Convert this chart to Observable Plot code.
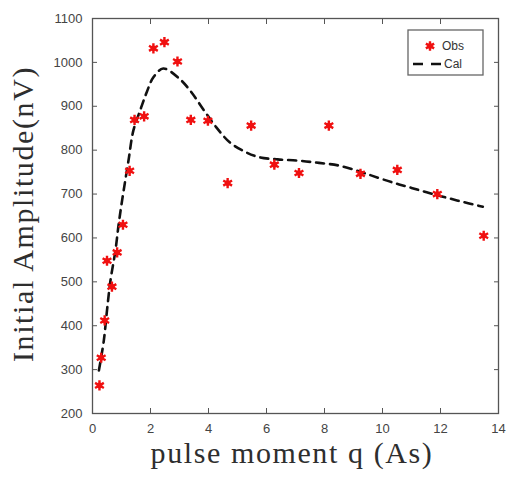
<!DOCTYPE html>
<html>
<head>
<meta charset="utf-8">
<script src="https://cdn.jsdelivr.net/npm/d3@7"></script>
<script src="https://cdn.jsdelivr.net/npm/@observablehq/plot@0.6"></script>
<style>
  html, body { margin: 0; padding: 0; background: #fff; }
  #chart { width: 508px; height: 478px; }
</style>
</head>
<body>
<div id="chart"></div>
<script>
// Observed data (pulse moment q, amplitude nV)
const obsQ = [0.24, 0.30, 0.42, 0.50, 0.67, 0.85, 1.05, 1.28, 1.45, 1.78, 2.10, 2.48, 2.93, 3.39, 3.98, 4.66, 5.47, 6.27, 7.12, 8.15, 9.24, 10.51, 11.89, 13.49];
const obsA = [264, 327, 412, 548, 489, 567, 630, 753, 869, 877, 1032, 1046, 1002, 869, 867, 725, 856, 767, 748, 856, 746, 755, 700, 605];
// Calculated curve
const calQ = [0.22, 0.39, 0.50, 0.62, 0.79, 0.90, 1.02, 1.24, 1.41, 1.64, 1.87, 2.10, 2.44, 3.01, 3.41, 3.81, 4.27, 4.73, 5.30, 5.75, 6.38, 7.12, 7.81, 8.49, 9.18, 9.63, 10.32, 11.00, 11.80, 12.60, 13.46];
const calA = [298, 366, 435, 503, 571, 630, 685, 776, 845, 890, 932, 966, 986, 962, 932, 894, 852, 818, 795, 784, 779, 776, 771, 765, 752, 742, 727, 714, 699, 685, 671];
// Ticks and labels
const xTicks = [0, 2, 4, 6, 8, 10, 12, 14];
const yTicks = [200, 300, 400, 500, 600, 700, 800, 900, 1000, 1100];
const xTitle = "pulse moment q (As)";
const yTitle = "Initial Amplitude(nV)";
const legendLabels = ["Obs", "Cal"];

const obs = obsQ.map((q, i) => ({q, a: obsA[i]}));
const cal = calQ.map((q, i) => ({q, a: calA[i]}));

const axisColor = "#555";
const plain = d => String(d);
const plot = Plot.plot({
  width: 508,
  height: 478,
  marginLeft: 92,
  marginRight: 10,
  marginTop: 18,
  marginBottom: 65,
  style: {fontFamily: "'Liberation Sans', Arial, sans-serif", fontSize: "13px", color: "#444", background: "#fff"},
  x: {domain: [0, 14]},
  y: {domain: [200, 1100]},
  marks: [
    Plot.line(cal, {x: "q", y: "a", stroke: "#111", strokeWidth: 2.6, strokeDasharray: "8,6", curve: "catmull-rom"}),
    Plot.dot(obs, {x: "q", y: "a", r: 2.8, fill: "#f01010", stroke: "none"}),
    Plot.dot(obs, {x: "q", y: "a", r: 4.8, symbol: "asterisk", stroke: "#f01010", strokeWidth: 2.4}),
    Plot.frame({stroke: axisColor, strokeWidth: 1.3}),
    Plot.axisX(xTicks, {anchor: "bottom", tickSize: -5, tickPadding: 15, stroke: axisColor, label: null, fill: "#444", tickFormat: plain}),
    Plot.axisX(xTicks, {anchor: "top", tickSize: -5, stroke: axisColor, label: null, tickFormat: () => ""}),
    Plot.axisY(yTicks, {anchor: "left", tickSize: -5, tickPadding: 15, stroke: axisColor, label: null, fill: "#444", tickFormat: plain}),
    Plot.axisY(yTicks, {anchor: "right", tickSize: -5, stroke: axisColor, label: null, tickFormat: () => ""})
  ]
});
document.getElementById("chart").appendChild(plot);

const svg = d3.select(plot);
const serif = "'Liberation Serif', 'Times New Roman', serif";
// Axis titles
svg.append("text")
  .attr("x", 292).attr("y", 463)
  .attr("text-anchor", "middle")
  .style("font-family", serif).style("font-size", "30px").style("letter-spacing", "1.6px")
  .style("fill", "#2e2e2e")
  .text(xTitle);
svg.append("text")
  .attr("transform", "translate(33,214) rotate(-90)")
  .attr("text-anchor", "middle")
  .style("font-family", serif).style("font-size", "30px").style("letter-spacing", "1.6px")
  .style("fill", "#2e2e2e")
  .text(yTitle);

// Legend
const lg = svg.append("g");
lg.append("rect").attr("x", 408).attr("y", 30).attr("width", 75).attr("height", 45)
  .attr("fill", "#fff").attr("stroke", "#666").attr("stroke-width", 1.3);
lg.append("circle").attr("cx", 430).attr("cy", 46).attr("r", 2.8).attr("fill", "#f01010");
lg.append("path").attr("d", d3.symbol(d3.symbolAsterisk, 64)()).attr("transform", "translate(430,46)")
  .attr("stroke", "#f01010").attr("stroke-width", 2.4).attr("fill", "none");
lg.append("line").attr("x1", 413).attr("x2", 442).attr("y1", 64).attr("y2", 64)
  .attr("stroke", "#111").attr("stroke-width", 2.6).attr("stroke-dasharray", "10,8");
legendLabels.forEach((t, i) => {
  lg.append("text").attr("x", 453).attr("y", 46 + i * 18).attr("dy", "0.35em")
    .style("font-family", "'Liberation Sans', Arial, sans-serif").style("font-size", "12px")
    .style("fill", "#333").text(t);
});
</script>
</body>
</html>
